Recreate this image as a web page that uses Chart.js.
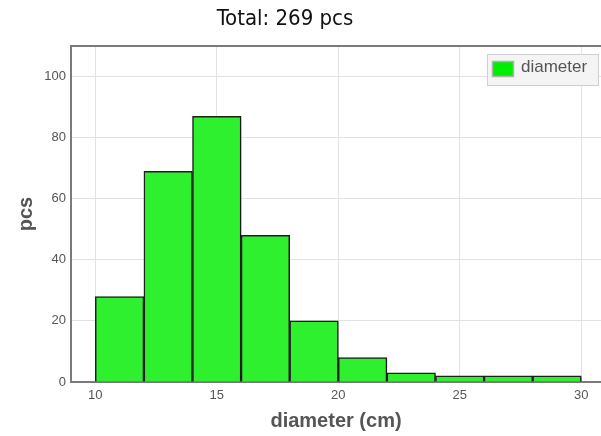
<!DOCTYPE html>
<html><head><meta charset="utf-8">
<script src="https://cdn.jsdelivr.net/npm/chart.js@4.4.0/dist/chart.umd.min.js"></script>
<style>html,body{margin:0;padding:0;background:#fff;}</style>
</head><body>
<canvas id="c" width="601" height="436" style="display:block;width:601px;height:436px"></canvas>
<script>
const titleText = 'Total: 269 pcs';
const seriesName = 'diameter';
const xTitle = 'diameter (cm)';
const yTitle = 'pcs';
const binStarts = [10, 12, 14, 16, 18, 20, 22, 24, 26, 28];
const binWidth = 2;
const counts = [28, 69, 87, 48, 20, 8, 3, 2, 2, 2];
const xTicks = [10, 15, 20, 25, 30];
const yTicks = [0, 20, 40, 60, 80, 100];

const points = binStarts.map((s, i) => ({ x: s + binWidth / 2, y: counts[i] }));

const decor = {
  id: 'decor',
  beforeDatasetsDraw(chart) {
    const ctx = chart.ctx;
    ctx.save();
    ctx.shadowColor = 'rgba(0,0,0,0.22)';
    ctx.shadowOffsetX = 3;
    ctx.shadowOffsetY = 2;
    ctx.shadowBlur = 1.5;
  },
  afterDatasetsDraw(chart) {
    chart.ctx.restore();
  },
  afterDraw(chart) {
    const ctx = chart.ctx;
    const a = chart.chartArea;
    ctx.save();
    // top border
    ctx.strokeStyle = '#7a7a7a';
    ctx.lineWidth = 2;
    ctx.beginPath();
    ctx.moveTo(a.left, a.top);
    ctx.lineTo(a.right, a.top);
    ctx.stroke();
    // title
    ctx.fillStyle = '#111';
    ctx.font = '22px "DejaVu Sans Condensed", "DejaVu Sans"';
    ctx.textAlign = 'center';
    ctx.textBaseline = 'alphabetic';
    ctx.fillText(titleText, 285, 25);
    // legend
    ctx.fillStyle = '#f4f4f4';
    ctx.fillRect(487, 54, 111, 31);
    ctx.strokeStyle = '#cfcfcf';
    ctx.lineWidth = 1;
    ctx.strokeRect(487.5, 54.5, 111, 31);
    ctx.fillStyle = '#00ee00';
    ctx.fillRect(493, 62, 20, 14);
    ctx.strokeStyle = '#b0b0b0';
    ctx.lineWidth = 1.5;
    ctx.strokeRect(492.5, 61.5, 21, 15);
    ctx.fillStyle = '#555';
    ctx.font = '17px "Liberation Sans", Arial';
    ctx.textAlign = 'left';
    ctx.fillText(seriesName, 521, 72);
    ctx.restore();
  }
};

new Chart(document.getElementById('c'), {
  type: 'bar',
  data: {
    datasets: [{
      label: seriesName,
      data: points,
      backgroundColor: '#2ef02e',
      borderColor: '#1e1e1e',
      borderWidth: 1.5,
      barPercentage: 1,
      categoryPercentage: 1,
      grouped: false
    }]
  },
  options: {
    responsive: false,
    animation: false,
    devicePixelRatio: 1,
    layout: { padding: { top: 46, left: 0, right: 0, bottom: 0 } },
    plugins: { legend: { display: false }, title: { display: false }, tooltip: { enabled: false } },
    scales: {
      x: {
        type: 'linear',
        min: 9,
        max: 30.81,
        offset: false,
        grid: { offset: false, color: '#e2e2e2', drawTicks: false, lineWidth: 1 },
        border: { display: true, color: '#7a7a7a', width: 2 },
        afterBuildTicks(scale) { scale.ticks = xTicks.map(v => ({ value: v })); },
        afterFit(scale) { scale.height = 54; },
        ticks: { color: '#555', font: { family: '"Liberation Sans", Arial', size: 13 }, padding: 6, maxRotation: 0 },
        title: { display: true, text: xTitle, color: '#555', font: { family: '"Liberation Sans", Arial', size: 20, weight: 'bold' }, padding: { top: 0, bottom: 3 } }
      },
      y: {
        type: 'linear',
        min: 0,
        max: 110,
        grid: { color: '#e2e2e2', drawTicks: false, lineWidth: 1 },
        border: { display: true, color: '#7a7a7a', width: 2 },
        afterBuildTicks(scale) { scale.ticks = yTicks.map(v => ({ value: v })); },
        afterFit(scale) { scale.width = 71; },
        ticks: { color: '#555', font: { family: '"Liberation Sans", Arial', size: 13 }, padding: 5 },
        title: { display: true, text: yTitle, color: '#555', font: { family: '"Liberation Sans", Arial', size: 20, weight: 'bold' }, padding: { top: 14, bottom: 0 } }
      }
    }
  },
  plugins: [decor]
});
</script>
</body></html>
